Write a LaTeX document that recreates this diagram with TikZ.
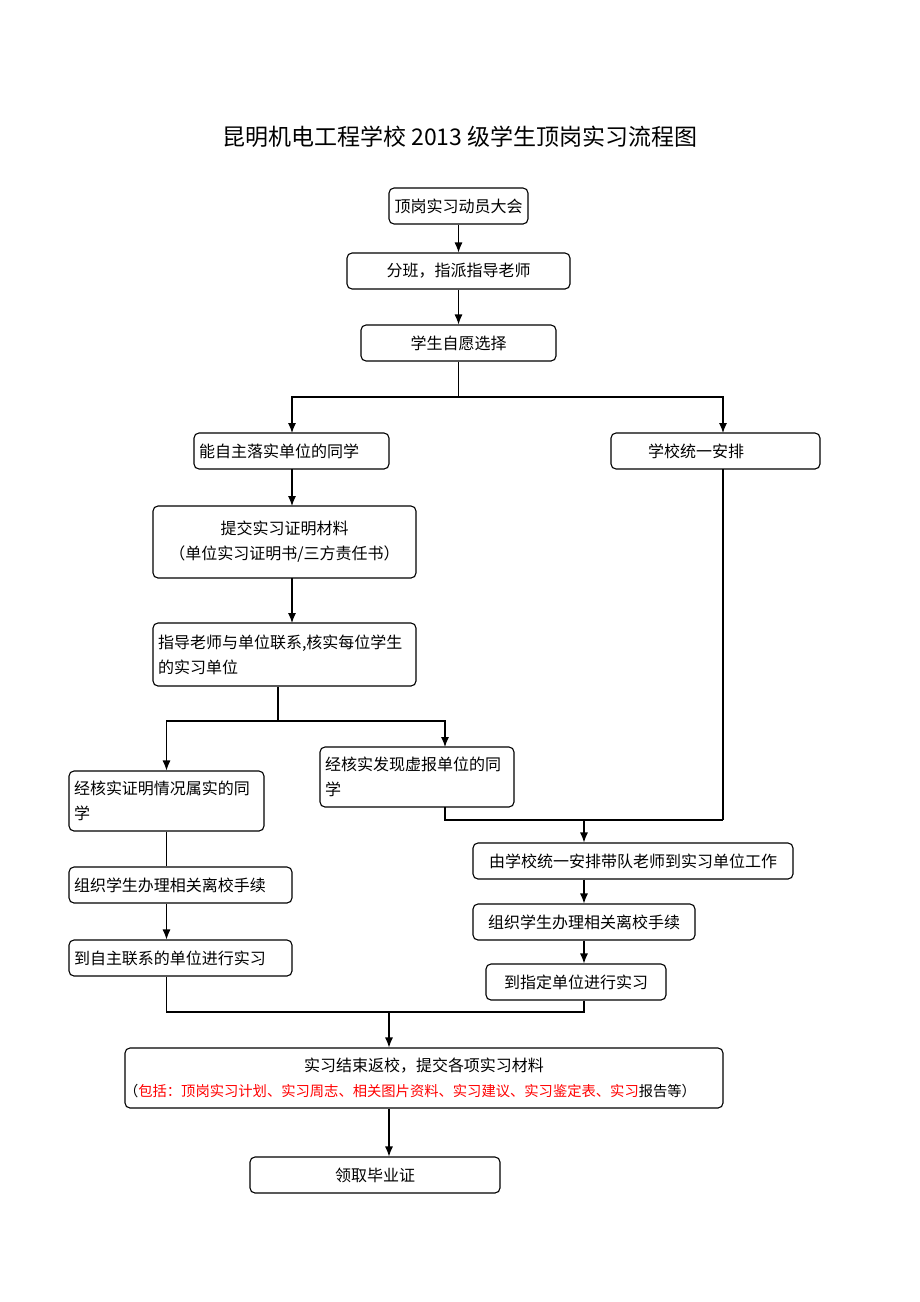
\documentclass[tikz,border=0pt]{standalone}
\usepackage{fontspec}
\newfontfamily\cjk{Noto Sans CJK SC}
\usetikzlibrary{arrows.meta}

\tikzset{
  box/.style={draw, line width=1.1pt, rounded corners=5pt, inner xsep=5pt, inner ysep=0pt, font=\cjk\fontsize{16}{25}\selectfont},
  arr/.style={line width=1.1pt, -{Latex[length=10pt,width=8pt]}},
  ln/.style={line width=1.1pt}
}

\begin{document}
\begin{tikzpicture}[x=1pt,y=-1pt]
\useasboundingbox (0,0) rectangle (920,1302);

\node[font=\cjk\fontsize{23}{28}\selectfont] (title) at (460,137) {昆明机电工程学校 2013 级学生顶岗实习流程图};

\node[box, text width=129, minimum height=36, align=center] (dongyuan) at (458.5,206) {顶岗实习动员大会};
\node[box, text width=213, minimum height=36, align=center] (fenban) at (458.5,271) {分班，指派指导老师};
\node[box, text width=185, minimum height=36, align=center] (xuanze) at (458.5,343) {学生自愿选择};

\node[box, text width=185, minimum height=36, align=left] (zizhu) at (291.5,451) {能自主落实单位的同学};
\node[box, text width=199, minimum height=36, align=left] (tongyi) at (715.5,451) {\hspace*{32pt}学校统一安排};

\node[box, text width=253, minimum height=72, align=center] (tijiao) at (284.5,542) {提交实习证明材料\\（单位实习证明书/三方责任书）};
\node[box, text width=253, minimum height=63, align=left] (heshi) at (284.5,654.5) {指导老师与单位联系,核实每位学生\\的实习单位};

\node[box, text width=185, minimum height=60, align=left] (shushi) at (166.5,801) {经核实证明情况属实的同\\学};
\node[box, text width=184, minimum height=60, align=left] (xubao) at (417,777) {经核实发现虚报单位的同\\学};

\node[box, text width=213, minimum height=36, align=left] (lixiaoA) at (180.5,885) {组织学生办理相关离校手续};
\node[box, text width=213, minimum height=36, align=left] (zizhuSX) at (180.5,958) {到自主联系的单位进行实习};

\node[box, text width=310, minimum height=36, align=center] (daidui) at (633,861) {由学校统一安排带队老师到实习单位工作};
\node[box, text width=212, minimum height=36, align=center] (lixiaoB) at (584,922) {组织学生办理相关离校手续};
\node[box, text width=170, minimum height=36, align=center] (zhidingSX) at (576,982) {到指定单位进行实习};

\node[box, text width=588, minimum height=60, align=center] (jieshu) at (424,1078) {实习结束返校，提交各项实习材料\\{\fontsize{14.3}{20}\selectfont\hspace*{-28pt}（\textcolor{red}{包括：顶岗实习计划、实习周志、相关图片资料、实习建议、实习鉴定表、实习}报告等）}};
\node[box, text width=240, minimum height=36, align=center] (biye) at (375,1175) {领取毕业证};

\coordinate (fenA) at (458.5,397);
\coordinate (fenB) at (278,721);
\coordinate (heA) at (584,820);
\coordinate (heB) at (389,1012);

\draw[arr] (dongyuan) -- (fenban);
\draw[arr] (fenban) -- (xuanze);
\draw[ln] (xuanze.south) -- (fenA);
\draw[arr] (fenA) -| (292,433);
\draw[arr] (fenA) -| (723,433);

\draw[arr] (292,469) -- (292,506);
\draw[arr] (292,578) -- (292,623);
\draw[ln] (heshi.south -| fenB) -- (fenB);
\draw[arr] (fenB) -| (shushi.north);
\draw[arr] (fenB) -| (445,747);

\draw[ln] (445,807) |- (723,820);
\draw[ln] (723,469) -- (723,820);
\draw[arr] (heA) -- (daidui.north -| heA);
\draw[arr] (daidui.south -| heA) -- (lixiaoB.north -| heA);
\draw[arr] (lixiaoB.south -| heA) -- (zhidingSX.north -| heA);

\draw[ln] (shushi.south) -- (lixiaoA.north -| shushi.south);
\draw[arr] (lixiaoA.south -| shushi.south) -- (zizhuSX.north -| shushi.south);

\draw[ln] (zizhuSX.south -| shushi.south) |- (heB);
\draw[ln] (zhidingSX.south -| heA) |- (heB);
\draw[arr] (heB) -- (jieshu.north -| heB);
\draw[arr] (jieshu.south -| heB) -- (biye.north -| heB);
\end{tikzpicture}
\end{document}
